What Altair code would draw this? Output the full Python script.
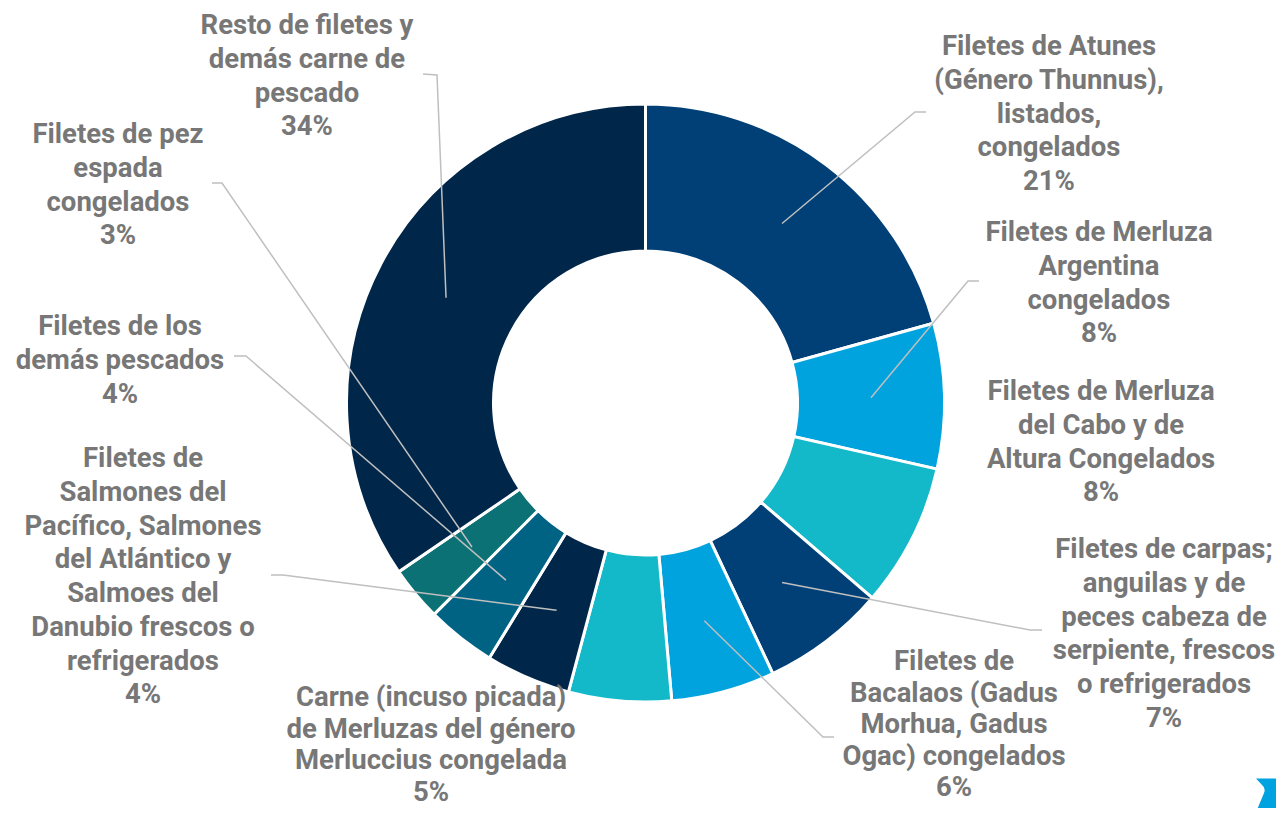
import math
import altair as alt
import pandas as pd

# ---------------- data ----------------
categories = [
    "Filetes de Atunes\n(Género Thunnus),\nlistados,\ncongelados",
    "Filetes de Merluza\nArgentina\ncongelados",
    "Filetes de Merluza\ndel Cabo y de\nAltura Congelados",
    "Filetes de carpas;\nanguilas y de\npeces cabeza de\nserpiente, frescos\no refrigerados",
    "Filetes de\nBacalaos (Gadus\nMorhua, Gadus\nOgac) congelados",
    "Carne (incuso picada)\nde Merluzas del género\nMerluccius congelada",
    "Filetes de\nSalmones del\nPacífico, Salmones\ndel Atlántico y\nSalmoes del\nDanubio frescos o\nrefrigerados",
    "Filetes de los\ndemás pescados",
    "Filetes de pez\nespada\ncongelados",
    "Resto de filetes y\ndemás carne de\npescado",
]
values = [20.7, 7.85, 7.75, 6.7, 5.6, 5.55, 4.6, 3.75, 2.95, 34.55]
pct_labels = ["21%", "8%", "8%", "7%", "6%", "5%", "4%", "4%", "3%", "34%"]

# ---------------- style / layout ----------------
palette = ["#004077", "#00A3DE", "#13B9C9", "#004077", "#00A3DE",
           "#13B9C9", "#00274A", "#006384", "#0B7174", "#00274A"]
W, H = 1268, 800
CX, CY = 637.5, 395          # donut centre (chart coords)
R_OUT, R_IN = 299, 152
R_MID = (R_OUT + R_IN) / 2

# label anchor = centre x and first-line centre y (page coords)
label_xy = [(1049, 47), (1099, 233), (1101, 392), (1164, 550), (954, 662),
            (431, 698), (143, 459), (120, 327), (118, 135), (307, 26)]
# labels near the bottom edge use a slightly tighter line spacing
tight = [False, False, False, False, True, True, False, False, False, False]
# leader-line bend and end points (page coords), None = no line
leader = [((915, 112), (926, 112)), ((968, 281), (979, 281)), None,
          ((1030, 630), (1042, 630)), ((823, 737), (834, 737)), None,
          ((283, 575), (271, 575)), ((246, 356), (234, 356)),
          ((222, 183), (212, 183)), ((437, 75), (423, 74))]

idx = list(range(len(categories)))
df = pd.DataFrame({"cat": categories, "value": values, "idx": idx,
                   "label": [c + "\n" + p for c, p in zip(categories, pct_labels)],
                   "lx": [p[0] - 8 for p in label_xy],
                   "ly": [p[1] - 8 for p in label_xy],
                   "tight": tight})

# leader lines: from the slice mid-point (derived from the values) to the label
rows = []
total = sum(values)
cum = 0.0
for i, v in enumerate(values):
    mid = (cum + v / 2) / total * 2 * math.pi
    cum += v
    if leader[i] is None:
        continue
    mx = CX + R_MID * math.sin(mid)
    my = CY - R_MID * math.cos(mid)
    pts = [(mx, my), (leader[i][0][0] - 8, leader[i][0][1] - 8),
           (leader[i][1][0] - 8, leader[i][1][1] - 8)]
    for k, (x, y) in enumerate(pts):
        rows.append({"g": i, "k": k, "px": x, "py": y})
lines_df = pd.DataFrame(rows)

donut = alt.Chart(df).mark_arc(
    innerRadius=R_IN, outerRadius=R_OUT, stroke="white", strokeWidth=3
).encode(
    theta=alt.Theta("value:Q", stack=True),
    order=alt.Order("idx:Q"),
    color=alt.Color("cat:N", scale=alt.Scale(domain=categories, range=palette), legend=None),
    x=alt.value(CX), y=alt.value(CY),
)

leaders = alt.Chart(lines_df).mark_line(color="#BFBFBF", strokeWidth=1.5).encode(
    x=alt.X("px:Q", scale=None, axis=None),
    y=alt.Y("py:Q", scale=None, axis=None),
    detail="g:N",
    order="k:Q",
)

text_style = dict(font="Roboto", fontWeight="bold", fontSize=27.5, color="#777777",
                  lineBreak="\n", align="center", baseline="middle")
text_enc = dict(x=alt.X("lx:Q", scale=None, axis=None),
                y=alt.Y("ly:Q", scale=None, axis=None),
                text="label:N")

labels = alt.Chart(df).transform_filter("!datum.tight").mark_text(
    lineHeight=33.75, **text_style).encode(**text_enc)
labels_bottom = alt.Chart(df).transform_filter("datum.tight").mark_text(
    lineHeight=31.5, **text_style).encode(**text_enc)

logo = alt.Chart(pd.DataFrame({"a": [0]})).mark_point(
    shape="M -0.7 -0.92 L 1 -0.92 L 1 1 L -0.8 1 L -0.3 -0.2 Q -0.2 -0.45 -0.4 -0.6 Z",
    filled=True, fill="#00A3E0", opacity=1, size=1600, strokeWidth=0
).encode(x=alt.value(1262), y=alt.value(789))

chart = alt.layer(donut, leaders, labels, labels_bottom, logo).properties(
    width=W, height=H, padding=0, autosize=alt.AutoSizeParams(type="none")
).configure_view(stroke=None)

chart.save("out.html", embed_options={"renderer": "svg", "actions": False})
